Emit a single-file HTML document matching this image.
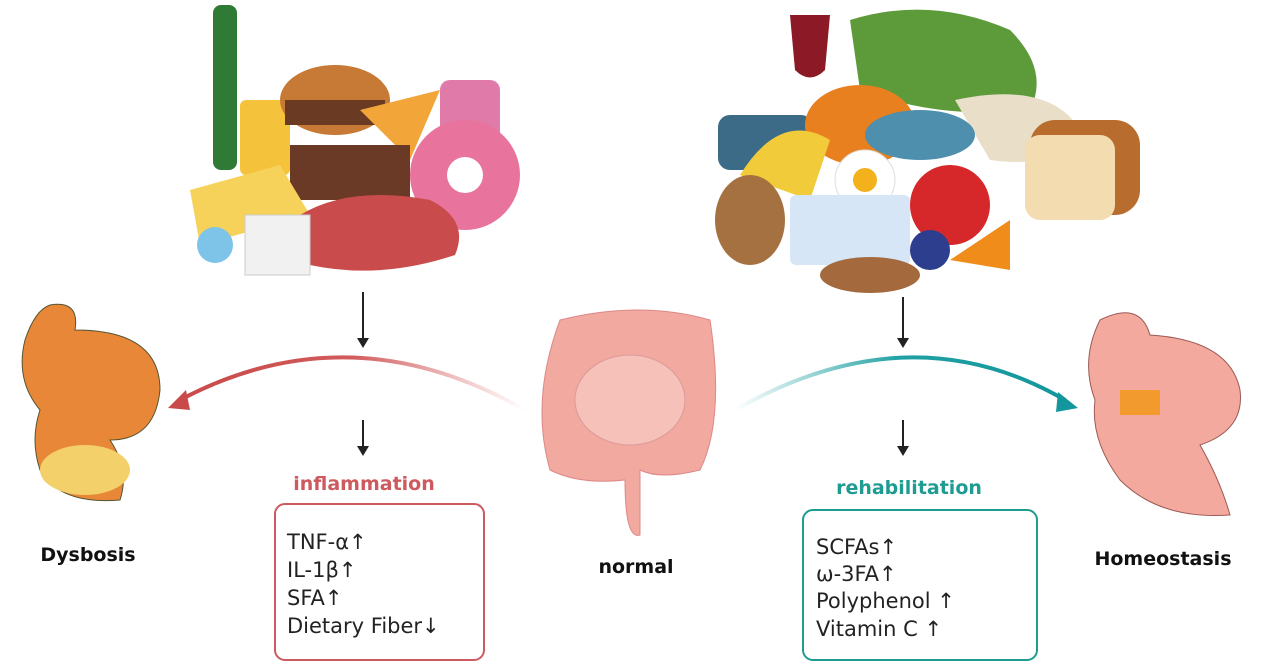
<!DOCTYPE html>
<html><head><meta charset="utf-8"><style>
html,body{margin:0;padding:0;background:#fff;width:1264px;height:663px;overflow:hidden}
svg text{font-family:"DejaVu Sans","Liberation Sans",sans-serif}
</style></head><body>
<svg width="1264" height="663" viewBox="0 0 1264 663" xmlns="http://www.w3.org/2000/svg">
<defs>
<linearGradient id="rg" x1="1" x2="0" y1="0" y2="0"><stop offset="0" stop-color="#d96a6a" stop-opacity="0"/><stop offset="0.5" stop-color="#d15b5b"/><stop offset="1" stop-color="#c94a4a"/></linearGradient>
<linearGradient id="tg" x1="0" x2="1" y1="0" y2="0"><stop offset="0" stop-color="#2aa5a5" stop-opacity="0"/><stop offset="0.5" stop-color="#1fa0a3"/><stop offset="1" stop-color="#13969c"/></linearGradient>
</defs>
<!-- left food -->
<rect x="213" y="5" width="24" height="165" rx="8" fill="#2f7a34"/>
<rect x="240" y="100" width="50" height="75" rx="6" fill="#f5c33b"/>
<ellipse cx="335" cy="100" rx="55" ry="35" fill="#c77a36"/>
<rect x="285" y="100" width="100" height="25" fill="#6a3b22"/>
<polygon points="360,110 440,90 410,160" fill="#f2a63a"/>
<rect x="440" y="80" width="60" height="70" rx="10" fill="#e07aa8"/>
<rect x="290" y="145" width="120" height="55" fill="#6b3a26"/>
<circle cx="465" cy="175" r="55" fill="#e8749e"/><circle cx="465" cy="175" r="18" fill="#fff"/>
<polygon points="190,190 280,165 310,215 200,245" fill="#f7d25a"/>
<path d="M300 215 Q350 185 430 200 Q470 220 455 255 Q380 280 310 265 Z" fill="#c94b4b"/>
<rect x="245" y="215" width="65" height="60" fill="#f1f1f1" stroke="#ccc"/>
<circle cx="215" cy="245" r="18" fill="#7ec3e8"/>
<!-- right food -->
<path d="M850 20 Q930 -5 1010 30 Q1050 70 1030 110 Q940 120 860 90 Z" fill="#5c9a3a"/>
<path d="M790 15 L830 15 L825 70 Q810 85 795 70 Z" fill="#8c1a26"/>
<rect x="718" y="115" width="95" height="55" rx="12" fill="#3b6b86"/>
<ellipse cx="860" cy="125" rx="55" ry="40" fill="#e8801f"/>
<path d="M740 175 Q780 110 830 140 L810 200 Z" fill="#f2cb3a"/>
<path d="M955 100 Q1050 80 1080 130 Q1060 170 990 160 Z" fill="#e9dfc9"/>
<rect x="1030" y="120" width="110" height="95" rx="25" fill="#b86d2e"/>
<rect x="1025" y="135" width="90" height="85" rx="15" fill="#f3ddb0"/>
<ellipse cx="920" cy="135" rx="55" ry="25" fill="#4e8fae"/>
<circle cx="865" cy="180" r="30" fill="#fff" stroke="#ddd"/><circle cx="865" cy="180" r="12" fill="#f3b21c"/>
<ellipse cx="750" cy="220" rx="35" ry="45" fill="#a57140"/>
<rect x="790" y="195" width="120" height="70" rx="6" fill="#d6e6f7"/>
<circle cx="950" cy="205" r="40" fill="#d6282b"/>
<circle cx="930" cy="250" r="20" fill="#2d3e8f"/>
<path d="M950 260 L1010 220 L1010 270 Z" fill="#f08c1a"/>
<ellipse cx="870" cy="275" rx="50" ry="18" fill="#a46a3d"/>
<!-- arrows down -->
<g stroke="#222" stroke-width="2" fill="#222">
<line x1="363" y1="292" x2="363" y2="340"/><polygon points="357,338 369,338 363,348" stroke="none"/>
<line x1="363" y1="420" x2="363" y2="448"/><polygon points="357,446 369,446 363,456" stroke="none"/>
<line x1="903" y1="297" x2="903" y2="340"/><polygon points="897,338 909,338 903,348" stroke="none"/>
<line x1="903" y1="420" x2="903" y2="448"/><polygon points="897,446 909,446 903,456" stroke="none"/>
</g>
<!-- curved arrows -->
<path d="M525 410 Q350 310 180 400" stroke="url(#rg)" stroke-width="4" fill="none"/>
<polygon points="168,408 186,390 190,410" fill="#c94a4a"/>
<path d="M735 410 Q910 310 1065 400" stroke="url(#tg)" stroke-width="4" fill="none"/>
<polygon points="1078,408 1058,392 1056,412" fill="#13969c"/>
<!-- intestine -->
<path d="M560 320 Q640 300 710 320 Q725 420 700 470 Q660 480 640 470 L640 535 Q625 540 625 480 Q580 485 550 470 Q530 400 560 320 Z" fill="#f1a9a0" stroke="#d88"/>
<ellipse cx="630" cy="400" rx="55" ry="45" fill="#f6c1b8" stroke="#d99" />
<!-- dysbosis stomach -->
<path d="M50 305 Q80 300 75 330 Q160 330 160 390 Q155 440 110 440 Q130 470 120 500 Q60 505 40 470 Q30 440 40 410 Q15 380 25 340 Q35 310 50 305 Z" fill="#e88738" stroke="#553"/>
<ellipse cx="85" cy="470" rx="45" ry="25" fill="#f4d06a"/>
<!-- homeostasis stomach -->
<path d="M1100 320 Q1140 300 1150 335 Q1230 340 1240 390 Q1245 430 1200 445 Q1220 480 1230 515 Q1160 520 1120 480 Q1090 440 1095 400 Q1080 360 1100 320 Z" fill="#f3a99e" stroke="#9a5a55"/>
<rect x="1120" y="390" width="40" height="25" fill="#f29a2e"/>
<!-- labels -->
<text x="364" y="490" text-anchor="middle" font-size="19" font-weight="bold" fill="#cc5a5f">inflammation</text>
<text x="909" y="494" text-anchor="middle" font-size="19" font-weight="bold" fill="#1f9c91">rehabilitation</text>
<rect x="275" y="504" width="209" height="156" rx="10" fill="none" stroke="#cc5a5f" stroke-width="2"/>
<rect x="803" y="510" width="234" height="150" rx="10" fill="none" stroke="#1f9c91" stroke-width="2"/>
<g font-size="21" fill="#222">
<text x="287" y="549">TNF-α↑</text><text x="287" y="577">IL-1β↑</text><text x="287" y="605">SFA↑</text><text x="287" y="633">Dietary Fiber↓</text>
<text x="816" y="554">SCFAs↑</text><text x="816" y="581">ω-3FA↑</text><text x="816" y="608">Polyphenol ↑</text><text x="816" y="636">Vitamin C ↑</text>
</g>
<g font-size="19" font-weight="bold" fill="#111" font-family="Liberation Sans,sans-serif">
<text x="88" y="561" text-anchor="middle">Dysbosis</text>
<text x="636" y="573" text-anchor="middle">normal</text>
<text x="1163" y="565" text-anchor="middle">Homeostasis</text>
</g>
</svg>
</body></html>
